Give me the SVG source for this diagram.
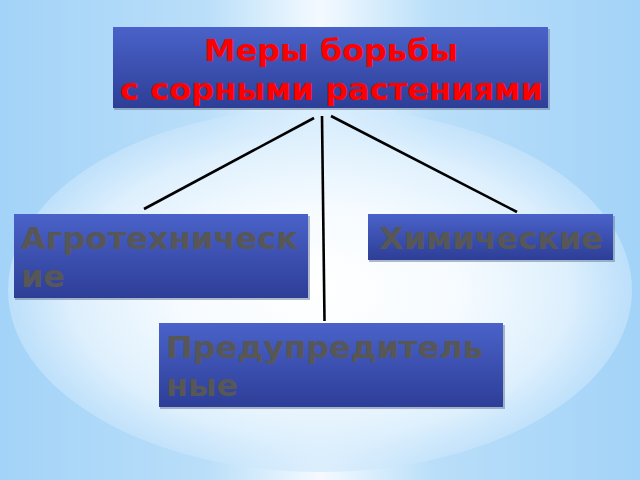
<svg xmlns="http://www.w3.org/2000/svg" width="640" height="480" viewBox="0 0 640 480">
  <defs>
    <linearGradient id="bgH" x1="0" y1="0" x2="1" y2="0">
      <stop offset="0" stop-color="#a3d3f8"/>
      <stop offset="0.32" stop-color="#b9def9"/>
      <stop offset="0.5" stop-color="#f4faff"/>
      <stop offset="0.68" stop-color="#b9def9"/>
      <stop offset="1" stop-color="#a3d3f8"/>
    </linearGradient>
    <radialGradient id="glow" cx="0.5" cy="0.5" r="0.5">
      <stop offset="0" stop-color="#ffffff"/>
      <stop offset="0.45" stop-color="#f6fbff"/>
      <stop offset="0.8" stop-color="#e0f1fd" stop-opacity="0.95"/>
      <stop offset="1" stop-color="#cce7fc" stop-opacity="0.6"/>
    </radialGradient>
    <linearGradient id="box" x1="0" y1="0" x2="0" y2="1">
      <stop offset="0" stop-color="#4a62c9"/>
      <stop offset="1" stop-color="#2d3e97"/>
    </linearGradient>
    <style>
      .node rect.b { fill: url(#box); }
      .node rect.s { fill: #6f7f9f; opacity: 0.55; }
      .title { font-family: "DejaVu Sans", "Verdana", sans-serif; font-weight: bold; font-size: 31px; fill: #ff0000; }
      .lbl { font-family: "DejaVu Sans", "Verdana", sans-serif; font-weight: bold; font-size: 31px; fill: #575757; }
      .conn line { stroke: #000000; stroke-width: 2.6; stroke-linecap: butt; }
    </style>
  </defs>

  <rect x="0" y="0" width="640" height="480" fill="url(#bgH)"/>
  <ellipse cx="320" cy="290" rx="312" ry="182" fill="url(#glow)"/>

  <g id="connectors" class="conn">
    <line x1="314" y1="118" x2="144" y2="209"/>
    <line x1="322" y1="116" x2="324.5" y2="321"/>
    <line x1="331" y1="116" x2="517" y2="212"/>
  </g>

  <g id="node-top" class="node">
    <rect class="s" x="114" y="29" width="436" height="81"/>
    <rect class="b" x="113" y="27" width="435" height="81"/>
    <text class="title" x="204" y="61" textLength="254" lengthAdjust="spacingAndGlyphs">Меры борьбы</text>
    <text class="title" x="120" y="100" textLength="423" lengthAdjust="spacingAndGlyphs">с сорными растениями</text>
  </g>

  <g id="node-agro" class="node">
    <rect class="s" x="15" y="216" width="295" height="84"/>
    <rect class="b" x="14" y="214" width="294" height="84"/>
    <text class="lbl" x="21" y="249" textLength="277" lengthAdjust="spacingAndGlyphs">Агротехническ</text>
    <text class="lbl" x="21" y="287" textLength="44" lengthAdjust="spacingAndGlyphs">ие</text>
  </g>

  <g id="node-chem" class="node">
    <rect class="s" x="369" y="216" width="246" height="46"/>
    <rect class="b" x="368" y="214" width="245" height="46"/>
    <text class="lbl" x="379" y="249" textLength="224" lengthAdjust="spacingAndGlyphs">Химические</text>
  </g>

  <g id="node-prev" class="node">
    <rect class="s" x="160" y="325" width="345" height="84"/>
    <rect class="b" x="159" y="323" width="344" height="84"/>
    <text class="lbl" x="166" y="358" textLength="317" lengthAdjust="spacingAndGlyphs">Предупредитель</text>
    <text class="lbl" x="166" y="396" textLength="72" lengthAdjust="spacingAndGlyphs">ные</text>
  </g>
</svg>
